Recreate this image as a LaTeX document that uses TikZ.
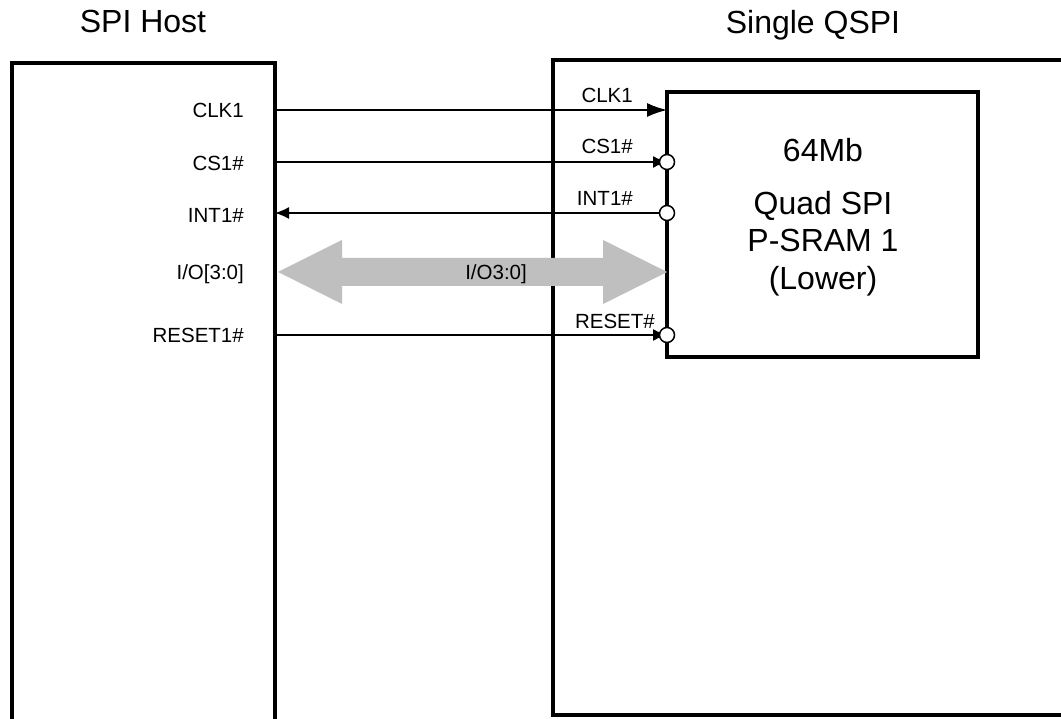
\documentclass[tikz,border=0pt]{standalone}
\usepackage{fontspec}
\setmainfont{Liberation Sans}
\usetikzlibrary{arrows.meta,calc}
\definecolor{iogray}{HTML}{BFBFBF}
\begin{document}
\begin{tikzpicture}[x=1pt,y=-1pt,
  box/.style={draw, line width=3.2pt, inner sep=0pt, outer sep=0pt},
  sig/.style={line width=1.5pt},
  lbl/.style={font=\fontsize{20.5}{24}\selectfont, inner sep=0pt, anchor=base east},
  ttl/.style={font=\fontsize{32}{36}\selectfont, inner sep=0pt, anchor=base},
  big/.style={font=\fontsize{32}{36}\selectfont, inner sep=0pt, anchor=base},
  pin/.style={circle, draw, line width=1.5pt, fill=white, minimum size=15pt, inner sep=0pt, outer sep=0pt}]
\clip (0,0) rectangle (1061,719);
\fill[white] (0,0) rectangle (1061,719);
% boxes
\node[box, minimum width=263pt, minimum height=670pt, anchor=north west] (host) at (12,63) {};
\node[box, minimum width=560pt, minimum height=655pt, anchor=north west] (qspi) at (553,60) {};
\node[box, minimum width=311pt, minimum height=265pt, anchor=north west] (mem) at (667,92) {};
% titles
\node[ttl] (thost) at (143,33) {SPI Host};
\node[ttl] (tqspi) at (813,34) {Single QSPI};
% memory text
\node[big] (m1) at (823,162) {64Mb};
\node[big] (m2) at (823,215) {Quad SPI};
\node[big] (m3) at (823,252) {P-SRAM 1};
\node[big] (m4) at (823,290) {(Lower)};
% rows
\coordinate (rclk) at (0,110);
\coordinate (rcs) at (0,162);
\coordinate (rint) at (0,213);
\coordinate (rio) at (0,272);
\coordinate (rrst) at (0,335);
% IO bus arrow
\fill[iogray] (host.east |- rio) ++(3,0) coordinate (iol)
  -- ++(64,-32) -- ++(0,18) -- (603,258) -- (603,240)
  -- (mem.west |- rio) coordinate (ior)
  -- (603,304) -- (603,286) -- (342,286) -- (342,304) -- cycle;
\node[lbl] (lio) at (527,280) {I/O3:0]};
% signals
\draw[sig, -{Latex[length=20pt,width=14pt]}] (host.east |- rclk) -- (mem.west |- rclk);
\draw[sig, -{Latex[length=14pt,width=12pt]}] (host.east |- rcs) -- (mem.west |- rcs);
\draw[sig, -{Latex[length=14pt,width=12pt]}] (host.east |- rrst) -- (mem.west |- rrst);
\node[pin] (pcs) at (mem.west |- rcs) {};
\node[pin] (pint) at (mem.west |- rint) {};
\node[pin] (prst) at (mem.west |- rrst) {};
\draw[sig, -{Latex[length=14pt,width=12pt]}] (pint.west) -- (host.east |- rint);
% left labels
\node[lbl] (hclk) at (244,118) {CLK1};
\node[lbl] (hcs) at (244,171) {CS1\#};
\node[lbl] (hint) at (244,223) {INT1\#};
\node[lbl] (hio) at (244,280) {I/O[3:0]};
\node[lbl] (hrst) at (244,343) {RESET1\#};
% right labels
\node[lbl] (qclk) at (633,103) {CLK1};
\node[lbl] (qcs) at (633,154) {CS1\#};
\node[lbl] (qint) at (633,206) {INT1\#};
\node[lbl] (qrst) at (655,329) {RESET\#};
\end{tikzpicture}
\end{document}
